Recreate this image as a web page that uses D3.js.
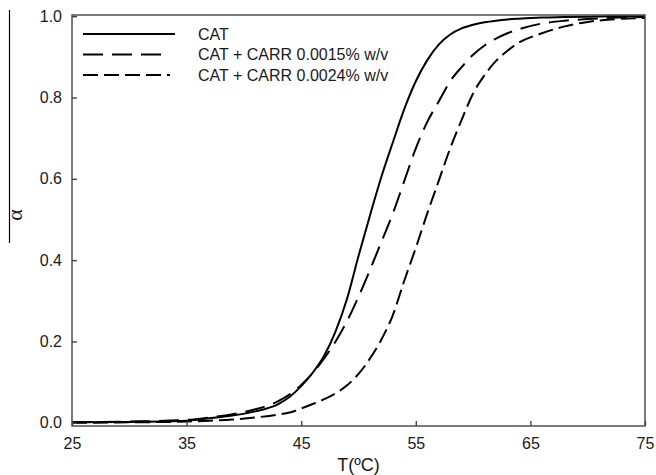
<!DOCTYPE html>
<html>
<head>
<meta charset="utf-8">
<script src="https://cdn.jsdelivr.net/npm/d3@7"></script>
<style>
  html, body { margin: 0; padding: 0; background: #fff; }
  svg { display: block; }
  text { font-family: "Liberation Sans", Arial, sans-serif; fill: #1a1a1a; }
</style>
</head>
<body>
<svg id="chart" width="656" height="475"></svg>
<script>
// Temperature grid (°C) shared by the three conversion curves
const temps = [25, 30, 35, 37, 39, 41, 43, 44, 45, 46, 47, 48, 49, 50, 51, 52, 53, 54, 55, 56, 57, 58, 59, 60, 61, 62, 63, 64, 66, 68, 70, 72, 75];

// Fraction unfolded (alpha) for each sample
const catAlpha = [0.001, 0.002, 0.005, 0.011, 0.018, 0.028, 0.046, 0.064, 0.090, 0.123, 0.165, 0.225, 0.305, 0.410, 0.510, 0.605, 0.690, 0.772, 0.840, 0.892, 0.930, 0.955, 0.970, 0.979, 0.985, 0.989, 0.992, 0.994, 0.997, 0.998, 0.999, 1.000, 1.000];
const carr15Alpha = [0.001, 0.003, 0.007, 0.013, 0.021, 0.033, 0.053, 0.070, 0.093, 0.122, 0.158, 0.200, 0.250, 0.310, 0.376, 0.445, 0.515, 0.595, 0.675, 0.740, 0.790, 0.840, 0.875, 0.905, 0.928, 0.945, 0.958, 0.968, 0.982, 0.989, 0.993, 0.996, 0.998];
const carr24Alpha = [0.000, 0.001, 0.003, 0.005, 0.008, 0.013, 0.020, 0.025, 0.035, 0.046, 0.058, 0.072, 0.092, 0.120, 0.158, 0.205, 0.265, 0.350, 0.430, 0.515, 0.595, 0.675, 0.745, 0.810, 0.855, 0.890, 0.915, 0.935, 0.958, 0.975, 0.986, 0.992, 0.996];

const seriesNames = ["CAT", "CAT + CARR 0.0015% w/v", "CAT + CARR 0.0024% w/v"];
const seriesDash = [null, "20,9", "15,6"];
const seriesValues = [catAlpha, carr15Alpha, carr24Alpha];

const xTicks = [25, 35, 45, 55, 65, 75];
const yTicks = [0, 0.2, 0.4, 0.6, 0.8, 1.0];

const svg = d3.select("#chart");
const plotLeft = 72, plotRight = 645, plotTop = 15, plotBottom = 426;

const x = d3.scaleLinear().domain([25, 75]).range([plotLeft, plotRight]);
const y = d3.scaleLinear().domain([-0.008, 1.003]).range([plotBottom, plotTop]);

// Curves
const line = d3.line()
  .x(d => x(d[0]))
  .y(d => y(d[1]))
  .curve(d3.curveMonotoneX);

seriesValues.forEach((vals, i) => {
  const pts = temps.map((t, j) => [t, vals[j]]);
  svg.append("path")
    .attr("d", line(pts))
    .attr("fill", "none")
    .attr("stroke", "#000")
    .attr("stroke-width", 2)
    .attr("stroke-dasharray", seriesDash[i]);
});

// Frame
svg.append("rect")
  .attr("x", plotLeft).attr("y", plotTop)
  .attr("width", plotRight - plotLeft).attr("height", plotBottom - plotTop)
  .attr("fill", "none").attr("stroke", "#444").attr("stroke-width", 1.4);

// Axes with inward ticks
const xAxis = d3.axisBottom(x).tickValues(xTicks).tickSize(-5).tickPadding(12).tickFormat(d3.format("d"));
const gx = svg.append("g").attr("transform", `translate(0,${plotBottom})`).call(xAxis);
const yAxis = d3.axisLeft(y).tickValues(yTicks).tickSize(-5).tickPadding(10).tickFormat(d3.format(".1f"));
const gy = svg.append("g").attr("transform", `translate(${plotLeft},0)`).call(yAxis);

[gx, gy].forEach(g => {
  g.select(".domain").remove();
  g.selectAll(".tick line").attr("stroke", "#444").attr("stroke-width", 1.4);
  g.selectAll(".tick text").style("font-size", "16px").attr("fill", "#1a1a1a");
});

// Axis titles
svg.append("text")
  .attr("x", (plotLeft + plotRight) / 2).attr("y", 471)
  .attr("text-anchor", "middle")
  .style("font-size", "18px")
  .text("T(ºC)");

svg.append("line")
  .attr("x1", 9.5).attr("x2", 9.5).attr("y1", 10).attr("y2", 243)
  .attr("stroke", "#000").attr("stroke-width", 1.2);
svg.append("text")
  .attr("transform", "translate(22,215) rotate(-90)")
  .attr("text-anchor", "middle")
  .style("font-family", "'Liberation Serif', 'DejaVu Serif', serif")
  .style("font-size", "22px")
  .text("α");

// Legend
const legend = svg.append("g");
seriesNames.forEach((name, i) => {
  const cy = 34 + i * 20.5;
  legend.append("line")
    .attr("x1", 83).attr("x2", i === 0 ? 175 : 170)
    .attr("y1", cy).attr("y2", cy)
    .attr("stroke", "#000").attr("stroke-width", 2)
    .attr("stroke-dasharray", seriesDash[i]);
  legend.append("text")
    .attr("x", 198).attr("y", cy + 5.5)
    .style("font-size", "16px")
    .text(name);
});
</script>
</body>
</html>
